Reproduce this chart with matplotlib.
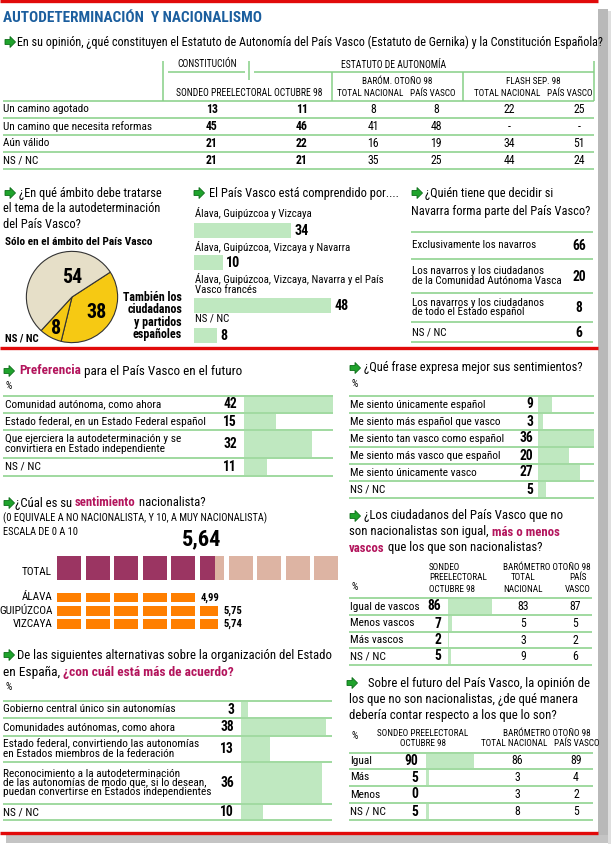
import matplotlib.pyplot as plt
from matplotlib import font_manager
from matplotlib.patches import Rectangle, Polygon

W, H = 611, 846

# ---------------- data ----------------
t1_rows = ["Un camino agotado", "Un camino que necesita reformas", "Aún válido", "NS / NC"]
t1_constitucion = ["13", "45", "21", "21"]
t1_estatuto_sondeo = ["11", "46", "22", "21"]
t1_barom_total = ["8", "41", "16", "35"]
t1_barom_pv = ["8", "48", "19", "25"]
t1_flash_total = ["22", "-", "34", "44"]
t1_flash_pv = ["25", "-", "51", "24"]

ambito_values = [38, 8, 54]   # También los ciudadanos..., NS/NC, Sólo en el ámbito del País Vasco

comp_labels = ["Álava, Guipúzcoa y Vizcaya",
               "Álava, Guipúzcoa, Vizcaya y Navarra",
               "Álava, Guipúzcoa, Vizcaya, Navarra y el País\nVasco francés",
               "NS / NC"]
comp_values = [34, 10, 48, 8]

nav_labels = ["Exclusivamente los navarros",
              "Los navarros y los ciudadanos\nde la Comunidad Autónoma Vasca",
              "Los navarros y los ciudadanos\nde todo el Estado español",
              "NS / NC"]
nav_values = [66, 20, 8, 6]

pref_labels = ["Comunidad autónoma, como ahora",
               "Estado federal, en un Estado Federal español",
               "Que ejerciera la autodeterminación y se\nconvirtiera en Estado independiente",
               "NS / NC"]
pref_values = [42, 15, 32, 11]

frase_labels = ["Me siento únicamente español", "Me siento más español que vasco",
                "Me siento tan vasco como español", "Me siento más vasco que español",
                "Me siento únicamente vasco", "NS / NC"]
frase_values = [9, 3, 36, 20, 27, 5]

sent_total = 5.64
sent_regions = ["ÁLAVA", "GUIPÚZCOA", "VIZCAYA"]
sent_values = [4.99, 5.75, 5.74]

vascos_labels = ["Igual de vascos", "Menos vascos", "Más vascos", "NS / NC"]
vascos_sondeo = [86, 7, 2, 5]
vascos_total = [83, 5, 3, 9]
vascos_pv = [87, 5, 2, 6]

estado_labels = ["Gobierno central único sin autonomías",
                 "Comunidades autónomas, como ahora",
                 "Estado federal, convirtiendo las autonomías\nen Estados miembros de la federación",
                 "Reconocimiento a la autodeterminación\nde las autonomías de modo que, si lo desean,\npuedan convertirse en Estados independientes",
                 "NS / NC"]
estado_values = [3, 38, 13, 36, 10]

futuro_labels = ["Igual", "Más", "Menos", "NS / NC"]
futuro_sondeo = [90, 5, 0, 5]
futuro_total = [86, 3, 3, 8]
futuro_pv = [89, 4, 2, 5]

QUESTION1 = ("En su opinión, ¿qué constituyen el Estatuto de Autonomía del País Vasco "
             "(Estatuto de Gernika) y la Constitución Española?")

# ---------------- fonts ----------------
fonts = font_manager.fontManager.ttflist
names = {f.name for f in fonts}
stretch = 'normal'
if 'Liberation Sans Narrow' in names:
    FAMILY = 'Liberation Sans Narrow'
elif 'Roboto Condensed' in names:
    FAMILY = 'Roboto Condensed'
elif any(f.name == 'DejaVu Sans' and f.stretch == 'condensed' for f in fonts):
    FAMILY, stretch = 'DejaVu Sans', 'condensed'
elif 'Roboto' in names:
    FAMILY = 'Roboto'
elif 'Liberation Sans' in names:
    FAMILY = 'Liberation Sans'
else:
    FAMILY = 'DejaVu Sans'
plt.rcParams['font.family'] = [FAMILY, 'DejaVu Sans']
plt.rcParams['font.stretch'] = stretch

RED = '#e10a0a'
GLINE = '#86cf86'
GBAR = '#bfe8c0'
MAG = '#b3145c'
BLUE = '#1b5e9e'
YEL = '#f6c913'
STIP = '#e6dfc8'
PURPLE = '#9b3562'
PINK = '#ddb4a3'
ORANGE = '#ff7f00'

fig = plt.figure(figsize=(W / 100, H / 100), dpi=100)
ax = fig.add_axes([0, 0, 1, 1])
ax.set_xlim(0, W)
ax.set_ylim(H, 0)
ax.axis('off')
ax.set_zorder(5)
ax.patch.set_visible(False)

# calibrate text size so the long question line spans its width in the reference
renderer = fig.canvas.get_renderer()
probe = ax.text(0, 0, QUESTION1, fontsize=10.3)
FS = min(1.0, 580 / probe.get_window_extent(renderer).width)
probe.remove()


def t(x, y, s, size=9.5, bold=False, color='black', ha='left', va='center', ls=1.0):
    return ax.text(x, y, s, fontsize=size * FS, fontweight='bold' if bold else 'normal',
                   color=color, ha=ha, va=va, linespacing=ls, multialignment=ha)


def rich(x, y, parts, size=10.5):
    prev = None
    for s, b, c in parts:
        kw = dict(fontsize=size * FS, fontweight='bold' if b else 'normal', color=c)
        if prev is None:
            prev = ax.text(x, y, s, ha='left', va='center', **kw)
        else:
            prev = ax.annotate(s, xy=(1, 0), xycoords=prev, ha='left', va='bottom', **kw)


def hl(y, x0, x1, color=GLINE, lw=1.1):
    ax.plot([x0, x1], [y, y], color=color, lw=lw, solid_capstyle='butt')


def vl(x, y0, y1, color=GLINE, lw=1.1):
    ax.plot([x, x], [y0, y1], color=color, lw=lw, solid_capstyle='butt')


def arrow(x, y):
    pts = [(x, y - 2.5), (x + 5, y - 2.5), (x + 5, y - 5.5), (x + 10.5, y),
           (x + 5, y + 5.5), (x + 5, y + 2.5), (x, y + 2.5)]
    ax.add_patch(Polygon(pts, closed=True, fc='#1fa32c', ec='#0c6d18', lw=0.6))


def inset(x0, x1, y0, y1, xmax, xmin=0):
    a = fig.add_axes([x0 / W, 1 - y1 / H, (x1 - x0) / W, (y1 - y0) / H])
    a.set_xlim(xmin, xmax)
    a.set_ylim(y1, y0)
    a.axis('off')
    a.patch.set_visible(False)
    return a


def bar_column(lines, values, x0, x1, vmax):
    a = inset(x0, x1, lines[0], lines[-1], vmax)
    centers = [(lines[i] + lines[i + 1]) / 2 for i in range(len(values))]
    heights = [lines[i + 1] - lines[i] - 1.2 for i in range(len(values))]
    a.barh(centers, values, height=heights, color=GBAR, left=0)
    return centers


HDR = 7.8   # small caps header size

# ---------------- frame ----------------
ax.add_patch(Rectangle((598, 9), 10, 826, fc='#b9b9b9', ec='none', zorder=0))
ax.add_patch(Rectangle((608, 11), 3, 833, fc='#dedede', ec='none', zorder=0))
ax.add_patch(Rectangle((6, 835), 602, 8, fc='#c4c4c4', ec='none', zorder=0))
hl(1.5, 0, 598, RED, 2.4)
hl(348.5, 0, 598, RED, 2.4)
hl(833, 0, 598, RED, 2.4)

# ---------------- top table ----------------
t(3, 18, "AUTODETERMINACIÓN  Y NACIONALISMO", 13, True, BLUE)
arrow(5, 42)
t(17, 42, QUESTION1, 10.3)

t(207, 64, "CONSTITUCIÓN", HDR + 0.4, ha='center')
t(394, 65, "ESTATUTO DE AUTONOMÍA", HDR + 0.4, ha='center')
hl(72, 168, 245)
hl(72, 254, 594)
vl(163, 61, 101)
vl(249, 61, 80)
vl(332, 72, 101)
vl(463, 72, 101)
vl(594, 61, 101)
t(249, 93, "SONDEO PREELECTORAL OCTUBRE 98", HDR + 0.4, ha='center')
t(397, 81, "BARÓM. OTOÑO 98", HDR, ha='center')
t(370, 93, "TOTAL NACIONAL", HDR, ha='center')
t(433, 93, "PAÍS VASCO", HDR, ha='center')
t(533, 81, "FLASH SEP. 98", HDR, ha='center')
t(507, 93, "TOTAL NACIONAL", HDR, ha='center')
t(570, 93, "PAÍS VASCO", HDR, ha='center')

t1_lines = [101, 118, 135, 152, 169]
for y in t1_lines:
    hl(y, 3, 594)
t1_cols = [(212, t1_constitucion, True), (302, t1_estatuto_sondeo, True),
           (373, t1_barom_total, False), (436, t1_barom_pv, False),
           (509, t1_flash_total, False), (579, t1_flash_pv, False)]
for i, lab in enumerate(t1_rows):
    yc = (t1_lines[i] + t1_lines[i + 1]) / 2
    t(3, yc, lab, 9.6)
    for xc, col, b in t1_cols:
        t(xc, yc, col[i], 10, b, ha='center')

# ---------------- ámbito (pie) ----------------
arrow(5, 193)
t(19, 193, "¿En qué ámbito debe tratarse", 10.5)
t(3, 209, "el tema de la autodeterminación", 10.5)
t(3, 224, "del País Vasco?", 10.5)
t(5, 242, "Sólo en el ámbito del País Vasco", 9.6, True)
pa = fig.add_axes([25 / W, 1 - 344 / H, 94 / W, 94 / H])
pa.pie(ambito_values, startangle=33, counterclock=False, colors=[YEL, YEL, STIP],
       wedgeprops=dict(edgecolor='#333333', linewidth=0.8))
pa.set_xlim(-1.03, 1.03)
pa.set_ylim(-1.03, 1.03)
pa.set_aspect('equal')
pa.axis('off')
pa.text(0.0, 0.42, str(ambito_values[2]), fontsize=17 * FS, fontweight='bold', ha='center', va='center')
pa.text(0.54, -0.33, str(ambito_values[0]), fontsize=17 * FS, fontweight='bold', ha='center', va='center')
pa.text(-0.35, -0.68, str(ambito_values[1]), fontsize=17 * FS, fontweight='bold', ha='center', va='center')
t(5, 338, "NS / NC", 9.2, True)
t(182, 316, "También los\nciudadanos\ny partidos\nespañoles", 10.2, True, ha='right', ls=0.92)

# ---------------- comprendido ----------------
arrow(194, 193)
t(209, 193, "El País Vasco está comprendido por....", 10.5)
comp_label_y = [213, 247, 284, 319]
for lab, y in zip(comp_labels, comp_label_y):
    t(195, y, lab, 9.3, ls=1.05)
ca = inset(194, 331, 220, 346, max(comp_values))
comp_centers = [230.5, 262.5, 305.5, 335.5]
ca.barh(comp_centers, comp_values, height=15, color=GBAR)
for yc, v in zip(comp_centers, comp_values):
    ca.annotate(str(v), xy=(v, yc), xytext=(2.5, 0), textcoords='offset points',
                fontsize=12 * FS, fontweight='bold', va='center', ha='left')

# ---------------- navarra ----------------
arrow(412, 193)
t(425, 193, "¿Quién tiene que decidir si", 10.5)
t(411, 212, "Navarra forma parte del País Vasco?", 10.5)
nav_lines = [232, 259, 293, 322, 342]
for y in nav_lines:
    hl(y, 411, 593)
for i, (lab, v) in enumerate(zip(nav_labels, nav_values)):
    yc = (nav_lines[i] + nav_lines[i + 1]) / 2
    t(412, yc, lab, 9.4, ls=0.92)
    t(579, yc + 1, str(v), 11.5, True, ha='center')

# ---------------- preferencia ----------------
arrow(4, 371)
rich(19, 371, [("Preferencia", True, MAG), (" para el País Vasco en el futuro", False, 'black')], 11.2)
t(5, 386, "%", 8.5)
pref_lines = [396, 413, 430, 458, 476]
for y in pref_lines:
    hl(y, 3, 333)
pc = bar_column(pref_lines, pref_values, 244, 333, max(pref_values))
for lab, v, yc in zip(pref_labels, pref_values, pc):
    t(5, yc, lab, 9.7, ls=0.92)
    t(237, yc, str(v), 11.5, True, ha='right')

# ---------------- sentimiento ----------------
arrow(4, 503)
rich(15, 503, [("¿Cúal es su ", False, 'black'), ("sentimiento", True, MAG),
               (" nacionalista?", False, 'black')], 10.8)
t(3, 518, "(0 EQUIVALE A NO NACIONALISTA, Y 10, A MUY NACIONALISTA)", 8.8)
t(3, 532, "ESCALA DE 0 A 10", 8.8)
sa = inset(57, 343, 530, 632, 10)
SQ = 0.84
for i in range(10):
    fill = min(max(sent_total - i, 0), 1)
    sa.bar(i, 24, width=SQ, bottom=556, align='edge', color=PINK)
    if fill > 0:
        sa.bar(i, 24, width=SQ * fill, bottom=556, align='edge', color=PURPLE)
end_total = int(sent_total) + (sent_total - int(sent_total)) * SQ
sa.annotate(f"{sent_total:.2f}".replace('.', ','), xy=(end_total, 550), xytext=(4, 0),
            textcoords='offset points', fontsize=19 * FS, fontweight='bold', ha='right', va='bottom')
t(52, 572, "TOTAL", 9.6, ha='right')
reg_y = [597.5, 611, 624]
for name, v, yc in zip(sent_regions, sent_values, reg_y):
    t(53, yc, name, 9.6, ha='right')
    k = 0
    while k < v:
        fill = min(v - k, 1)
        sa.bar(k, 9.5, width=SQ * fill, bottom=yc - 4.75, align='edge', color=ORANGE)
        k += 1
    end = int(v) + (v - int(v)) * SQ if v % 1 else v - 1 + SQ
    sa.annotate(f"{v:.2f}".replace('.', ','), xy=(end, yc), xytext=(4, 0),
                textcoords='offset points', fontsize=9 * FS, fontweight='bold', ha='left', va='center')

# ---------------- frase ----------------
arrow(350, 368)
t(364, 368, "¿Qué frase expresa mejor sus sentimientos?", 10.6)
t(352, 384, "%", 8.5)
frase_lines = [396, 413, 430, 447, 464, 481, 498]
for y in frase_lines:
    hl(y, 349, 594)
fc = bar_column(frase_lines, frase_values, 538, 594, max(frase_values))
for lab, v, yc in zip(frase_labels, frase_values, fc):
    t(350, yc, lab, 9.6)
    t(533, yc, str(v), 11.5, True, ha='right')

# ---------------- más o menos vascos ----------------
arrow(350, 516)
t(364, 516, "¿Los ciudadanos del País Vasco que no", 10.9)
rich(349, 532, [("son nacionalistas son igual, ", False, 'black'), ("más o menos", True, MAG)], 10.9)
rich(349, 548, [("vascos", True, MAG), (" que los que son nacionalistas?", False, 'black')], 10.9)
t(429, 567, "SONDEO", HDR)
t(429, 578, "PREELECTORAL", HDR)
t(429, 590, "OCTUBRE 98", HDR)
t(547, 567, "BARÓMETRO OTOÑO 98", HDR, ha='center')
t(523, 578, "TOTAL", HDR, ha='center')
t(523, 590, "NACIONAL", HDR, ha='center')
t(578, 578, "PAÍS", HDR, ha='center')
t(578, 590, "VASCO", HDR, ha='center')
t(352, 587, "%", 8.5)
vascos_lines = [598, 615, 632, 648, 665]
for y in vascos_lines:
    hl(y, 349, 592)
vc = bar_column(vascos_lines, vascos_sondeo, 448, 492, max(vascos_sondeo))
for i, yc in enumerate(vc):
    t(350, yc, vascos_labels[i], 9.7)
    t(441, yc, str(vascos_sondeo[i]), 11.5, True, ha='right')
    t(523, yc, str(vascos_total[i]), 10, ha='center')
    t(575, yc, str(vascos_pv[i]), 10, ha='center')

# ---------------- organización del Estado ----------------
arrow(4, 655)
t(17, 655, "De las siguientes alternativas sobre la organización del Estado", 10.8)
rich(3, 672, [("en España, ", False, 'black'), ("¿con cuál está más de acuerdo?", True, MAG)], 11.4)
t(5, 687, "%", 8.5)
estado_lines = [701, 718, 736, 762, 804, 820]
for y in estado_lines:
    hl(y, 3, 332)
ec = bar_column(estado_lines, estado_values, 241, 326, max(estado_values))
for lab, v, yc in zip(estado_labels, estado_values, ec):
    t(3, yc, lab, 9.7, ls=0.92)
    t(234, yc, str(v), 11.5, True, ha='right')

# ---------------- futuro ----------------
arrow(347, 683)
t(368, 683, "Sobre el futuro del País Vasco, la opinión de", 10.9)
t(349, 699, "los que no son nacionalistas, ¿de qué manera", 10.9)
t(349, 715, "debería contar respecto a los que lo son?", 10.9)
t(352, 736, "%", 8.5)
t(423, 733, "SONDEO PREELECTORAL", HDR, ha='center')
t(423, 744, "OCTUBRE 98", HDR, ha='center')
t(547, 733, "BARÓMETRO OTOÑO 98", HDR, ha='center')
t(514, 744, "TOTAL NACIONAL", HDR, ha='center')
t(577, 744, "PAÍS VASCO", HDR, ha='center')
futuro_lines = [753, 769, 786, 803, 820]
for y in futuro_lines:
    hl(y, 349, 593)
uc = bar_column(futuro_lines, futuro_sondeo, 426, 474, max(futuro_sondeo))
for i, yc in enumerate(uc):
    t(350, yc, futuro_labels[i], 9.7)
    t(418, yc, str(futuro_sondeo[i]), 11.5, True, ha='right')
    t(517, yc, str(futuro_total[i]), 10, ha='center')
    t(576, yc, str(futuro_pv[i]), 10, ha='center')

fig.savefig("out.png", dpi=100)
